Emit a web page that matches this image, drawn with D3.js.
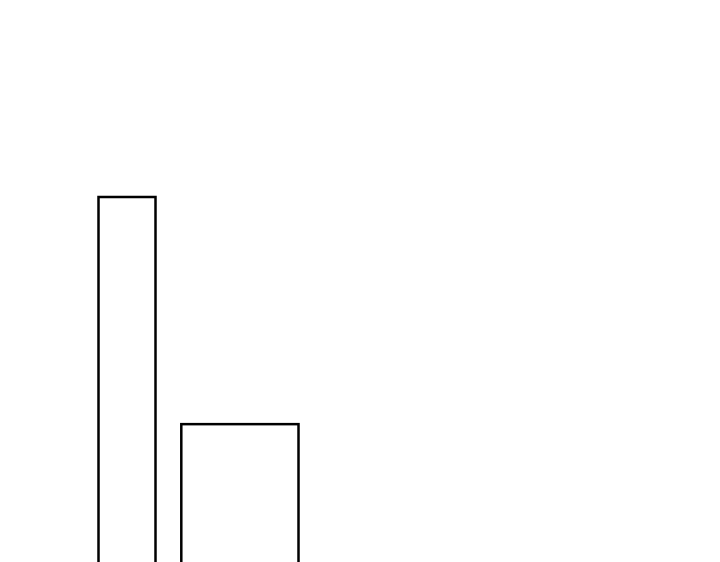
<!DOCTYPE html>
<html lang="en">
<head>
<meta charset="UTF-8">
<title>Bars</title>
<script src="https://cdn.jsdelivr.net/npm/d3@7"></script>
<style>
    html, body { margin: 0; padding: 0; background: #fff; }
    svg { display: block; }
    .bar { fill: #fff; stroke: #000; stroke-width: 2.5; }
</style>
</head>
<body>
<div id="root"></div>
<script>
    // data
    const categories = ["A", "B"]
    const xStart = [0, 4.14]       // bar start on the x scale
    const xEnd = [2.85, 10]        // bar end on the x scale
    const values = [100, 46.3]     // bar heights

    const width = 720
    const height = 562

    const svg = d3.select("#root").append("svg")
        .attr("width", width).attr("height", height)

    const xScale = d3.scaleLinear().domain([0, 10]).range([98.5, 298.5])
    const yScale = d3.scaleLinear().domain([0, 100]).range([620, 197])   // baseline sits below the visible area

    svg.append("g").selectAll("rect")
        .data(categories)
        .enter().append("rect")
        .attr("class", "bar")
        .attr("x", (d, i) => xScale(xStart[i]))
        .attr("width", (d, i) => xScale(xEnd[i]) - xScale(xStart[i]))
        .attr("y", (d, i) => yScale(values[i]))
        .attr("height", (d, i) => yScale(0) - yScale(values[i]))
</script>
</body>
</html>
